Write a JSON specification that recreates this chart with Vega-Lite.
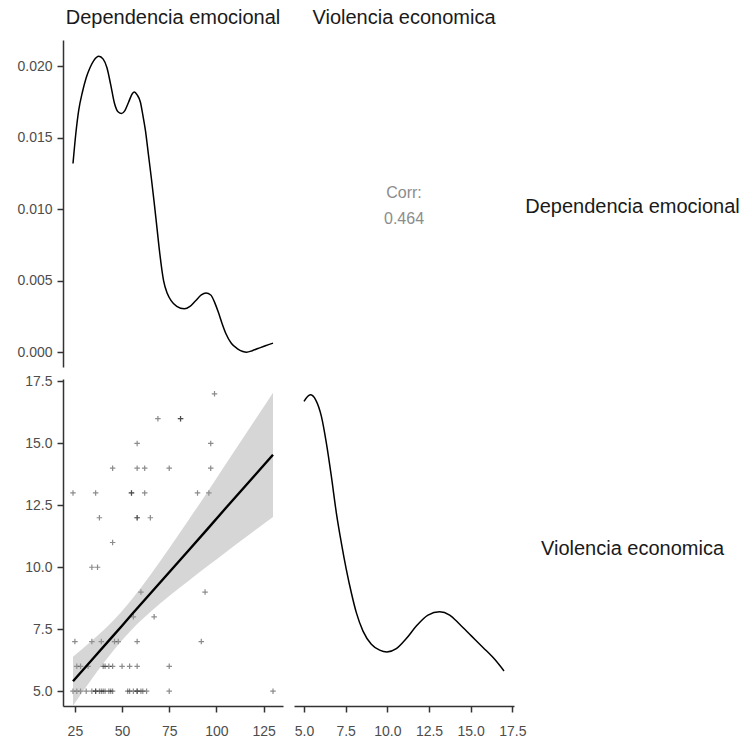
{
  "$schema": "https://vega.github.io/schema/vega-lite/v6.json",
  "padding": {"left": 16, "top": 8, "right": 5, "bottom": 5},
  "background": "white",
  "config": {
    "font": "Liberation Sans",
    "view": {"stroke": null},
    "axis": {"labelFont": "Liberation Sans", "labelFontSize": 14, "labelColor": "#4d4d4d", "tickColor": "#333333", "domainColor": "#333333", "tickSize": 6, "labelPadding": 5, "grid": false, "domainWidth": 1.5, "tickWidth": 1.5},
    "axisBottom": {"labelPadding": 12},
    "title": {"font": "Liberation Sans", "fontSize": 20, "fontWeight": "normal", "color": "#1a1a1a", "offset": 12, "anchor": "middle", "frame": "group", "baseline": "alphabetic"}
  },
  "datasets": {
    "dens_dep": [
      {"x": 24, "density": 0.0132}, {"x": 25.5, "density": 0.0153}, {"x": 27, "density": 0.0169}, {"x": 29, "density": 0.0182},
      {"x": 31, "density": 0.0192}, {"x": 33, "density": 0.0199}, {"x": 35, "density": 0.0204}, {"x": 37.7, "density": 0.0207},
      {"x": 40, "density": 0.0205}, {"x": 42, "density": 0.0199}, {"x": 44, "density": 0.0187}, {"x": 46, "density": 0.0174},
      {"x": 48, "density": 0.0168}, {"x": 49.7, "density": 0.0167}, {"x": 51.5, "density": 0.0169}, {"x": 53.5, "density": 0.0175},
      {"x": 55.5, "density": 0.0181}, {"x": 56.5, "density": 0.0182}, {"x": 58, "density": 0.018}, {"x": 59.7, "density": 0.0175},
      {"x": 61, "density": 0.0166}, {"x": 62.4, "density": 0.0155}, {"x": 64, "density": 0.0138}, {"x": 65.5, "density": 0.0122},
      {"x": 67, "density": 0.0105}, {"x": 68.5, "density": 0.0087}, {"x": 70, "density": 0.0069}, {"x": 72, "density": 0.005},
      {"x": 74, "density": 0.0041}, {"x": 76, "density": 0.0036}, {"x": 79, "density": 0.0032}, {"x": 83, "density": 0.00303},
      {"x": 86, "density": 0.0032}, {"x": 89, "density": 0.0036}, {"x": 92, "density": 0.004}, {"x": 94.5, "density": 0.00413},
      {"x": 97, "density": 0.004}, {"x": 99, "density": 0.0035}, {"x": 101, "density": 0.0028}, {"x": 103, "density": 0.002},
      {"x": 105, "density": 0.0013}, {"x": 108, "density": 0.0006}, {"x": 111, "density": 0.00025}, {"x": 114, "density": 0.00005},
      {"x": 116, "density": 0.0}, {"x": 119, "density": 0.0001}, {"x": 122, "density": 0.00025}, {"x": 126, "density": 0.00045},
      {"x": 130, "density": 0.00063}
    ],
    "dens_vio": [
      {"x": 5.0, "density": 0.195}, {"x": 5.38, "density": 0.1994}, {"x": 5.7, "density": 0.196}, {"x": 6.04, "density": 0.185},
      {"x": 6.34, "density": 0.167}, {"x": 6.64, "density": 0.1446}, {"x": 6.94, "density": 0.12}, {"x": 7.24, "density": 0.0998},
      {"x": 7.54, "density": 0.0818}, {"x": 7.84, "density": 0.0662}, {"x": 8.14, "density": 0.0528}, {"x": 8.54, "density": 0.0404},
      {"x": 9.04, "density": 0.0316}, {"x": 9.54, "density": 0.0276}, {"x": 9.98, "density": 0.0264}, {"x": 10.54, "density": 0.0286},
      {"x": 11.14, "density": 0.0354}, {"x": 11.74, "density": 0.0438}, {"x": 12.44, "density": 0.0512}, {"x": 13.14, "density": 0.0534},
      {"x": 13.74, "density": 0.0512}, {"x": 14.34, "density": 0.045}, {"x": 15.04, "density": 0.0372}, {"x": 15.74, "density": 0.0294},
      {"x": 16.44, "density": 0.0214}, {"x": 17.0, "density": 0.0136}
    ],
    "corr": [{"label": "Corr:\n0.464"}],
    "scatter": [
      {"dep": 24, "vio": 13}, {"dep": 36, "vio": 13}, {"dep": 55, "vio": 13}, {"dep": 55, "vio": 13}, {"dep": 62, "vio": 13}, {"dep": 90, "vio": 13}, {"dep": 96, "vio": 13},
      {"dep": 38, "vio": 12}, {"dep": 58, "vio": 12}, {"dep": 58, "vio": 12}, {"dep": 65, "vio": 12},
      {"dep": 45, "vio": 11},
      {"dep": 34, "vio": 10}, {"dep": 37, "vio": 10},
      {"dep": 45, "vio": 14}, {"dep": 58, "vio": 14}, {"dep": 62, "vio": 14}, {"dep": 75, "vio": 14}, {"dep": 97, "vio": 14},
      {"dep": 58, "vio": 15}, {"dep": 97, "vio": 15},
      {"dep": 69, "vio": 16}, {"dep": 81, "vio": 16}, {"dep": 81, "vio": 16},
      {"dep": 99, "vio": 17},
      {"dep": 60, "vio": 9}, {"dep": 94, "vio": 9},
      {"dep": 56, "vio": 8}, {"dep": 67, "vio": 8},
      {"dep": 25, "vio": 7}, {"dep": 34, "vio": 7}, {"dep": 39, "vio": 7}, {"dep": 46, "vio": 7}, {"dep": 48, "vio": 7}, {"dep": 58, "vio": 7}, {"dep": 92, "vio": 7},
      {"dep": 26, "vio": 6}, {"dep": 28, "vio": 6}, {"dep": 32, "vio": 6}, {"dep": 40, "vio": 6}, {"dep": 41, "vio": 6}, {"dep": 43, "vio": 6}, {"dep": 45, "vio": 6}, {"dep": 50, "vio": 6}, {"dep": 54, "vio": 6}, {"dep": 58, "vio": 6}, {"dep": 75, "vio": 6},
      {"dep": 24, "vio": 5}, {"dep": 26, "vio": 5}, {"dep": 28, "vio": 5}, {"dep": 31, "vio": 5}, {"dep": 34, "vio": 5}, {"dep": 36, "vio": 5}, {"dep": 36, "vio": 5}, {"dep": 38, "vio": 5}, {"dep": 39, "vio": 5}, {"dep": 40, "vio": 5}, {"dep": 41, "vio": 5}, {"dep": 43, "vio": 5}, {"dep": 44, "vio": 5}, {"dep": 45, "vio": 5}, {"dep": 53, "vio": 5}, {"dep": 54, "vio": 5}, {"dep": 56, "vio": 5}, {"dep": 58, "vio": 5}, {"dep": 58, "vio": 5}, {"dep": 60, "vio": 5}, {"dep": 61, "vio": 5}, {"dep": 63, "vio": 5}, {"dep": 75, "vio": 5}, {"dep": 130, "vio": 5}
    ],
    "fit": [
      {"dep": 24, "fit": 5.40, "lo": 4.41, "hi": 6.39},
      {"dep": 35, "fit": 6.35, "lo": 5.60, "hi": 7.10},
      {"dep": 45, "fit": 7.21, "lo": 6.60, "hi": 7.82},
      {"dep": 50, "fit": 7.64, "lo": 7.05, "hi": 8.23},
      {"dep": 55, "fit": 8.08, "lo": 7.47, "hi": 8.69},
      {"dep": 65, "fit": 8.94, "lo": 8.19, "hi": 9.69},
      {"dep": 75, "fit": 9.80, "lo": 8.84, "hi": 10.77},
      {"dep": 85, "fit": 10.66, "lo": 9.44, "hi": 11.88},
      {"dep": 95, "fit": 11.52, "lo": 10.03, "hi": 13.01},
      {"dep": 105, "fit": 12.39, "lo": 10.61, "hi": 14.17},
      {"dep": 115, "fit": 13.25, "lo": 11.18, "hi": 15.32},
      {"dep": 130, "fit": 14.54, "lo": 12.03, "hi": 17.05}
    ]
  },
  "columns": 2,
  "bounds": "flush",
  "spacing": {"row": 12, "column": 11},
  "concat": [
    {
      "width": 220, "height": 327,
      "title": {"text": "Dependencia emocional"},
      "data": {"name": "dens_dep"},
      "mark": {"type": "line", "color": "black", "strokeWidth": 1.5, "interpolate": "monotone"},
      "encoding": {
        "x": {"field": "x", "type": "quantitative", "scale": {"domain": [18.7, 135.3], "nice": false, "zero": false}, "axis": null},
        "y": {"field": "density", "type": "quantitative", "scale": {"domain": [-0.00104, 0.02184], "nice": false, "zero": false}, "axis": {"values": [0, 0.005, 0.01, 0.015, 0.02], "format": ".3f", "title": null}}
      }
    },
    {
      "width": 220, "height": 327,
      "title": {"text": "Violencia economica"},
      "data": {"name": "corr"},
      "mark": {"type": "text", "fontSize": 16, "color": "#8c8c8c", "lineBreak": "\n", "lineHeight": 26, "dy": -11, "font": "Liberation Sans"},
      "encoding": {
        "text": {"field": "label", "type": "nominal"},
        "y": {"datum": 0.5, "type": "quantitative", "scale": {"domain": [0, 1]}, "axis": {"orient": "right", "labels": false, "ticks": false, "domain": false, "grid": false, "title": "Dependencia emocional", "titleAngle": 0, "titleAlign": "center", "titleBaseline": "middle", "titleX": 118, "titleY": 166, "titleFontSize": 20, "titleColor": "#1a1a1a", "titleFontWeight": "normal", "titleFont": "Liberation Sans"}}
      }
    },
    {
      "width": 220, "height": 327,
      "layer": [
        {
          "data": {"name": "scatter"},
          "mark": {"type": "point", "shape": "M-1,0H1M0,-1V1", "filled": false, "stroke": "black", "strokeWidth": 1.2, "opacity": 0.45, "size": 30},
          "encoding": {
            "x": {"field": "dep", "type": "quantitative", "scale": {"domain": [18.7, 135.3], "nice": false, "zero": false}, "axis": {"values": [25, 50, 75, 100, 125], "title": null}},
            "y": {"field": "vio", "type": "quantitative", "scale": {"domain": [4.4, 17.6], "nice": false, "zero": false}, "axis": {"values": [5, 7.5, 10, 12.5, 15, 17.5], "format": ".1f", "title": null}}
          }
        },
        {
          "data": {"name": "fit"},
          "mark": {"type": "area", "color": "#999999", "opacity": 0.4, "interpolate": "monotone"},
          "encoding": {
            "x": {"field": "dep", "type": "quantitative"},
            "y": {"field": "lo", "type": "quantitative"},
            "y2": {"field": "hi"}
          }
        },
        {
          "data": {"name": "fit"},
          "mark": {"type": "line", "color": "black", "strokeWidth": 2.4},
          "encoding": {
            "x": {"field": "dep", "type": "quantitative"},
            "y": {"field": "fit", "type": "quantitative"}
          }
        }
      ]
    },
    {
      "width": 220, "height": 327,
      "data": {"name": "dens_vio"},
      "mark": {"type": "line", "color": "black", "strokeWidth": 1.5, "interpolate": "monotone"},
      "encoding": {
        "x": {"field": "x", "type": "quantitative", "scale": {"domain": [4.4, 17.6], "nice": false, "zero": false}, "axis": {"values": [5, 7.5, 10, 12.5, 15, 17.5], "format": ".1f", "title": null}},
        "y": {"field": "density", "type": "quantitative", "scale": {"domain": [-0.01, 0.21], "nice": false, "zero": false}, "axis": {"orient": "right", "labels": false, "ticks": false, "domain": false, "grid": false, "title": "Violencia economica", "titleAngle": 0, "titleAlign": "center", "titleBaseline": "middle", "titleX": 118, "titleY": 169, "titleFontSize": 20, "titleColor": "#1a1a1a", "titleFontWeight": "normal", "titleFont": "Liberation Sans"}}
      }
    }
  ]
}
